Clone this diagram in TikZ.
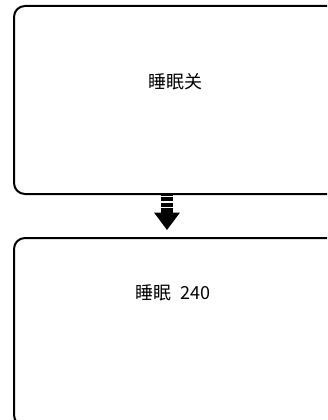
\documentclass[tikz,border=0pt]{standalone}
\usepackage{fontspec}
\setmainfont{Noto Sans CJK SC}
\begin{document}
\begin{tikzpicture}[x=1pt,y=-1pt,
  panel/.style={draw=black,line width=2pt,rounded corners=11pt,minimum width=325pt,minimum height=188pt,inner sep=0pt,anchor=north west},
  label/.style={font=\fontsize{18}{21}\selectfont,inner sep=0pt,anchor=center},
  bar/.style={fill=black}]
\useasboundingbox (0,0) rectangle (327,420);
\clip (0,0) rectangle (327,420);
\node[panel] (top) at (13,5) {};
\node[panel] (bot) at (13,237) {};
\node[label] (t1) at (175.5,81.5) {睡眠关};
\node[label] (t2) at (173,293) {睡眠\hspace{5pt} 240};
% striped block arrow between the panels
\fill[bar] (161,193.5) rectangle (173,195.5);
\fill[bar] (161,197) rectangle (173,201);
\fill[bar] (161,202.5) rectangle (173,206.5);
\fill[bar] (161,208) rectangle (173,213);
\fill[bar] (154,212.5) -- (180,212.5) -- (167,230) -- cycle;
\end{tikzpicture}
\end{document}
